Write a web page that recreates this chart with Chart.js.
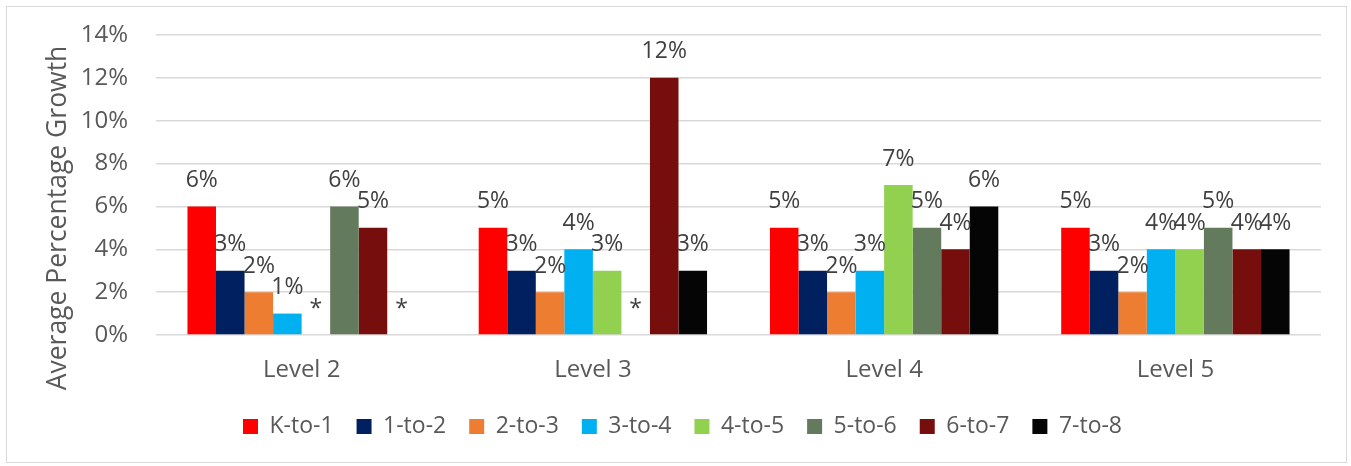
<!DOCTYPE html>
<html>
<head>
<meta charset="utf-8">
<script src="https://cdn.jsdelivr.net/npm/chart.js@4.4.1/dist/chart.umd.min.js"></script>
<style>
  html, body { margin: 0; padding: 0; background: #fff; }
  #wrap { position: relative; width: 1351px; height: 466px; }
  #frame {
    position: absolute; left: 6px; top: 6px; width: 1341px; height: 457px;
    box-sizing: border-box; border: 1.5px solid #d9d9d9; pointer-events: none;
  }
  #growthChart { position: absolute; left: 0; top: 0; }
</style>
</head>
<body>
<div id="wrap">
  <canvas id="growthChart" width="1351" height="466"></canvas>
  <div id="frame"></div>
</div>
<script>
// ========= data =========
const levels = ['Level 2', 'Level 3', 'Level 4', 'Level 5'];
const seriesNames = ['K-to-1', '1-to-2', '2-to-3', '3-to-4', '4-to-5', '5-to-6', '6-to-7', '7-to-8'];
const seriesColors = ['#ff0000', '#002060', '#ed7d31', '#00b0f0', '#92d050', '#637a5c', '#770e0e', '#050505'];

// null = no data (shown as "*")
const kTo1   = [6, 5, 5, 5];
const oneTo2 = [3, 3, 3, 3];
const twoTo3 = [2, 2, 2, 2];
const threeTo4 = [1, 4, 3, 4];
const fourTo5  = [null, 3, 7, 4];
const fiveTo6  = [6, null, 5, 5];
const sixTo7   = [5, 12, 4, 4];
const sevenTo8 = [null, 3, 6, 4];
const seriesValues = [kTo1, oneTo2, twoTo3, threeTo4, fourTo5, fiveTo6, sixTo7, sevenTo8];

const yTicks = [0, 2, 4, 6, 8, 10, 12, 14];
const yTitle = 'Average Percentage Growth';

// ========= style =========
const FONT = "'Open Sans', 'Noto Sans', sans-serif";
const AXIS_COLOR = '#595959';
const LABEL_COLOR = '#404040';
const GRID_COLOR = '#d9d9d9';

// value labels above the bars, "*" where there is no value
const barLabels = {
  id: 'barLabels',
  afterDatasetsDraw(chart) {
    const ctx = chart.ctx;
    const yScale = chart.scales.y;
    ctx.save();
    ctx.font = `23px ${FONT}`;
    ctx.fillStyle = LABEL_COLOR;
    ctx.textAlign = 'center';
    ctx.textBaseline = 'middle';
    chart.data.datasets.forEach((ds, i) => {
      const meta = chart.getDatasetMeta(i);
      meta.data.forEach((bar, j) => {
        const v = ds.data[j];
        const top = v == null ? yScale.getPixelForValue(0) : bar.y;
        ctx.fillText(v == null ? '*' : `${v}%`, bar.x, top - 26);
      });
    });
    ctx.restore();
  }
};

// vertical axis title (sits a little below the plot middle, like the original)
const axisTitle = {
  id: 'axisTitle',
  afterDraw(chart) {
    const ctx = chart.ctx;
    ctx.save();
    ctx.translate(58, 218);
    ctx.rotate(-Math.PI / 2);
    ctx.font = `26.5px ${FONT}`;
    ctx.fillStyle = AXIS_COLOR;
    ctx.textAlign = 'center';
    ctx.textBaseline = 'middle';
    ctx.fillText(yTitle, 0, 0);
    ctx.restore();
  }
};

const ctx = document.getElementById('growthChart').getContext('2d');
new Chart(ctx, {
  type: 'bar',
  data: {
    labels: levels,
    datasets: seriesNames.map((name, i) => ({
      label: name,
      data: seriesValues[i],
      backgroundColor: seriesColors[i],
      borderWidth: 0,
      categoryPercentage: 0.784,
      barPercentage: 1.0
    }))
  },
  options: {
    responsive: false,
    animation: false,
    devicePixelRatio: 1,
    layout: { padding: { left: 44, right: 30, top: 35, bottom: 18 } },
    plugins: {
      legend: {
        position: 'bottom',
        labels: {
          boxWidth: 15,
          boxHeight: 15,
          padding: 23,
          color: AXIS_COLOR,
          font: { family: FONT, size: 23 }
        }
      },
      tooltip: { enabled: false }
    },
    scales: {
      x: {
        grid: { display: false, drawTicks: false },
        border: { display: false },
        ticks: { color: AXIS_COLOR, font: { family: FONT, size: 24 }, padding: 21 },
        afterFit: (s) => { s.height = 57; }
      },
      y: {
        min: 0,
        max: 14,
        afterBuildTicks: (s) => { s.ticks = yTicks.map(v => ({ value: v })); },
        grid: { color: GRID_COLOR, lineWidth: 1.5, drawTicks: false },
        border: { display: false },
        ticks: {
          color: AXIS_COLOR,
          font: { family: FONT, size: 24 },
          padding: 28,
          callback: (v) => `${v}%`
        },
        afterFit: (s) => {
          s.width = 112;
          // tick padding should not push the plot area down
          s.paddingTop = 0;
          s.paddingBottom = 0;
        }
      }
    }
  },
  plugins: [barLabels, axisTitle]
});
</script>
</body>
</html>
